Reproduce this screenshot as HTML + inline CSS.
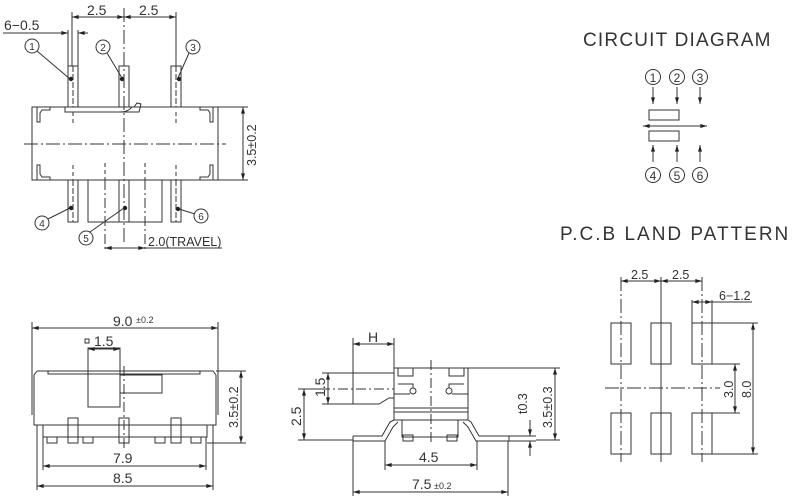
<!DOCTYPE html>
<html><head><meta charset="utf-8"><style>
html,body{margin:0;padding:0;background:#fff;}
svg{display:block;}
text{font-family:"Liberation Sans",sans-serif;fill:#333;}
</style></head><body>
<svg width="800" height="503" viewBox="0 0 800 503" xmlns="http://www.w3.org/2000/svg">
<defs>
<marker id="a" viewBox="0 0 10 6" refX="10" refY="3" markerWidth="8" markerHeight="4" orient="auto-start-reverse" markerUnits="userSpaceOnUse"><path d="M0,0L10,3L0,6z" fill="#222"/></marker>
</defs>
<g stroke="#333" stroke-width="1" fill="none">
<line x1="72" y1="12" x2="72" y2="66"/><line x1="176" y1="12" x2="176" y2="66"/>
<line x1="72" y1="17" x2="124" y2="17" marker-start="url(#a)" marker-end="url(#a)"/>
<line x1="124" y1="17" x2="176" y2="17" marker-start="url(#a)" marker-end="url(#a)"/>
<line x1="124" y1="8" x2="124" y2="245" stroke-dasharray="14,3,2,3"/>
<line x1="3" y1="33" x2="62" y2="33"/>
<line x1="58" y1="33" x2="68" y2="33" marker-end="url(#a)"/>
<line x1="88" y1="33" x2="78" y2="33" marker-end="url(#a)"/>
<line x1="68" y1="30" x2="68" y2="66"/><line x1="78" y1="30" x2="78" y2="66"/>
<rect x="68" y="66" width="10" height="41"/><rect x="119" y="66" width="10" height="41"/><rect x="171" y="66" width="10" height="41"/>
<rect x="68" y="180" width="10" height="42"/><rect x="119" y="180" width="10" height="42"/><rect x="171" y="180" width="10" height="42"/>
<line x1="73" y1="66" x2="73" y2="107" stroke-dasharray="6,2"/><line x1="176" y1="66" x2="176" y2="107" stroke-dasharray="6,2"/>
<line x1="73" y1="180" x2="73" y2="222" stroke-dasharray="6,2"/><line x1="176" y1="180" x2="176" y2="222" stroke-dasharray="6,2"/>
<rect x="32" y="107" width="186" height="73"/>
<path d="M65,107 L65,112 L120,112 Q128,112 132,107 M134,107 L137,103 L141,104 L139,112 L120,112"/>
<path d="M32,107 L50,107 L50,110 L42,110 L40,113 L40,122 L37,122 L37,107"/>
<path d="M218,107 L200,107 L200,110 L208,110 L210,113 L210,122 L213,122 L213,107"/>
<path d="M32,180 L50,180 L50,177 L42,177 L40,174 L40,165 L37,165 L37,180"/>
<path d="M218,180 L200,180 L200,177 L208,177 L210,174 L210,165 L213,165 L213,180"/>
<line x1="24" y1="144" x2="226" y2="144" stroke-dasharray="14,3,2,3"/>
<line x1="73" y1="112" x2="73" y2="125" stroke-dasharray="4,3"/><line x1="176" y1="112" x2="176" y2="125" stroke-dasharray="4,3"/>
<line x1="73" y1="165" x2="73" y2="180" stroke-dasharray="4,3"/><line x1="176" y1="165" x2="176" y2="180" stroke-dasharray="4,3"/>
<line x1="105" y1="163" x2="105" y2="180" stroke-dasharray="4,3"/><line x1="145" y1="163" x2="145" y2="180" stroke-dasharray="4,3"/>
<path d="M119,222 L88,222 L88,180 M129,180 L162,180 L162,222 L129,222" />
<line x1="105" y1="180" x2="105" y2="250" stroke-dasharray="10,3,2,3"/>
<line x1="145" y1="180" x2="145" y2="250" stroke-dasharray="10,3,2,3"/>
<line x1="105" y1="248" x2="145" y2="248" marker-start="url(#a)" marker-end="url(#a)"/>
<line x1="145" y1="248" x2="222" y2="248"/>
<line x1="218" y1="107" x2="248" y2="107"/><line x1="218" y1="180" x2="248" y2="180"/>
<line x1="243" y1="107" x2="243" y2="180" marker-start="url(#a)" marker-end="url(#a)"/>
<circle cx="32" cy="46" r="7"/><circle cx="103" cy="47" r="7"/><circle cx="193" cy="47" r="7"/>
<circle cx="42" cy="223" r="7"/><circle cx="86" cy="238" r="7"/><circle cx="201" cy="216" r="7"/>
<line x1="37" y1="51" x2="70" y2="79"/><line x1="107" y1="53" x2="122" y2="78"/><line x1="189" y1="53" x2="178" y2="78"/>
<line x1="48" y1="219" x2="70" y2="208"/><line x1="90" y1="232" x2="124" y2="208"/><line x1="195" y1="214" x2="179" y2="209"/>
</g>
<g fill="#222">
<circle cx="71" cy="79" r="2.2"/><circle cx="122" cy="79" r="2.2"/><circle cx="179" cy="79" r="2.2"/>
<circle cx="71" cy="208" r="2.2"/><circle cx="125" cy="208" r="2.2"/><circle cx="178" cy="209" r="2.2"/>
</g>
<g font-size="14">
<text x="87" y="15">2.5</text><text x="139" y="15">2.5</text>
<text x="4" y="30">6−0.5</text>
<text x="148" y="246" font-size="12.5">2.0(TRAVEL)</text>
<text transform="translate(256,166) rotate(-90)" font-size="12.5">3.5±0.2</text>
</g>
<g font-size="10" text-anchor="middle">
<text x="32" y="50">1</text><text x="103" y="51">2</text><text x="193" y="51">3</text>
<text x="42" y="227">4</text><text x="86" y="242">5</text><text x="201" y="220">6</text>
</g>

<text x="583" y="46" font-size="19" letter-spacing="1.2">CIRCUIT DIAGRAM</text>
<text x="560" y="240" font-size="19" letter-spacing="2">P.C.B LAND PATTERN</text>
<g stroke="#333" fill="none">
<circle cx="653" cy="77" r="7.5"/><circle cx="677" cy="77" r="7.5"/><circle cx="700" cy="77" r="7.5"/>
<circle cx="653" cy="175" r="7.5"/><circle cx="677" cy="175" r="7.5"/><circle cx="700" cy="175" r="7.5"/>
<line x1="653" y1="87" x2="653" y2="104" marker-end="url(#a)"/><line x1="677" y1="87" x2="677" y2="104" marker-end="url(#a)"/><line x1="700" y1="87" x2="700" y2="104" marker-end="url(#a)"/>
<line x1="653" y1="162" x2="653" y2="145" marker-end="url(#a)"/><line x1="677" y1="162" x2="677" y2="145" marker-end="url(#a)"/><line x1="700" y1="162" x2="700" y2="145" marker-end="url(#a)"/>
<rect x="649" y="110" width="30" height="10"/><rect x="649" y="131" width="30" height="10"/>
<line x1="643" y1="126" x2="707" y2="126" marker-start="url(#a)" marker-end="url(#a)"/>
</g>
<g font-size="12" text-anchor="middle">
<text x="653" y="82">1</text><text x="677" y="82">2</text><text x="700" y="82">3</text>
<text x="653" y="180">4</text><text x="677" y="180">5</text><text x="700" y="180">6</text>
</g>

<g stroke="#333" fill="none">
<rect x="611" y="323" width="20" height="41"/><rect x="651" y="323" width="20" height="41"/><rect x="692" y="323" width="20" height="41"/>
<rect x="611" y="413" width="20" height="41"/><rect x="651" y="413" width="20" height="41"/><rect x="692" y="413" width="20" height="41"/>
<line x1="621" y1="277" x2="621" y2="462" stroke-dasharray="14,3,2,3"/>
<line x1="661" y1="277" x2="661" y2="462"/>
<line x1="702" y1="277" x2="702" y2="462" stroke-dasharray="14,3,2,3"/>
<line x1="605" y1="388" x2="720" y2="388" stroke-dasharray="14,3,2,3"/>
<line x1="621" y1="281" x2="661" y2="281" marker-start="url(#a)" marker-end="url(#a)"/>
<line x1="661" y1="281" x2="702" y2="281" marker-start="url(#a)" marker-end="url(#a)"/>
<line x1="692" y1="300" x2="692" y2="323"/><line x1="712" y1="300" x2="712" y2="323"/>
<line x1="692" y1="302" x2="712" y2="302" marker-start="url(#a)" marker-end="url(#a)"/>
<line x1="712" y1="302" x2="752" y2="302"/>
<line x1="712" y1="364" x2="740" y2="364"/><line x1="712" y1="413" x2="740" y2="413"/>
<line x1="735" y1="364" x2="735" y2="413" marker-start="url(#a)" marker-end="url(#a)"/>
<line x1="712" y1="323" x2="758" y2="323"/><line x1="712" y1="454" x2="758" y2="454"/>
<line x1="753" y1="323" x2="753" y2="454" marker-start="url(#a)" marker-end="url(#a)"/>
</g>
<g font-size="12.5">
<text x="631" y="279">2.5</text><text x="672" y="279">2.5</text>
<text x="719" y="300">6−1.2</text>
<text transform="translate(733,398) rotate(-90)">3.0</text>
<text transform="translate(751,398) rotate(-90)">8.0</text>
</g>

<g stroke="#333" fill="none">
<line x1="32" y1="322" x2="32" y2="380"/><line x1="218" y1="322" x2="218" y2="380"/>
<line x1="32" y1="328" x2="218" y2="328" marker-start="url(#a)" marker-end="url(#a)"/>
<path d="M37,371 L213,371 L216,375 L216,425 L212,425 M37,371 L34,375 L34,425 L38,425"/>
<path d="M32,378 L32,415 M218,378 L218,415"/>
<line x1="38" y1="425" x2="212" y2="425"/>
<path d="M48,371 L48,374 L200,374 L200,371"/>
<path d="M43,425 L43,437 L207,437 L207,425"/>
<rect x="88" y="348" width="32" height="59"/>
<path d="M120,375 L162,375 L162,393 L120,393"/>
<line x1="88" y1="349" x2="120" y2="349" marker-start="url(#a)" marker-end="url(#a)"/>
<rect x="85" y="339" width="4" height="4"/>
<rect x="68" y="418" width="10" height="25"/><rect x="119" y="418" width="10" height="25"/><rect x="171" y="418" width="10" height="25"/>
<rect x="47" y="437" width="10" height="6"/><rect x="83" y="437" width="10" height="6"/><rect x="155" y="437" width="10" height="6"/><rect x="191" y="437" width="10" height="6"/>
<line x1="124" y1="366" x2="124" y2="450" stroke-dasharray="10,3,2,3"/>
<line x1="43" y1="437" x2="43" y2="470"/><line x1="206" y1="437" x2="206" y2="470"/>
<line x1="43" y1="466" x2="206" y2="466" marker-start="url(#a)" marker-end="url(#a)"/>
<line x1="37" y1="425" x2="37" y2="490"/><line x1="213" y1="425" x2="213" y2="490"/>
<line x1="37" y1="486" x2="213" y2="486" marker-start="url(#a)" marker-end="url(#a)"/>
<line x1="216" y1="371" x2="246" y2="371"/><line x1="207" y1="443" x2="246" y2="443"/>
<line x1="241" y1="371" x2="241" y2="443" marker-start="url(#a)" marker-end="url(#a)"/>
</g>
<g font-size="14">
<text x="113" y="326">9.0</text><text x="136" y="323" font-size="9">±0.2</text>
<text x="94" y="346">1.5</text>
<text x="113" y="463">7.9</text><text x="113" y="483">8.5</text>
<text transform="translate(238,428) rotate(-90)" font-size="12.5">3.5±0.2</text>
</g>

<g stroke="#333" fill="none">
<line x1="353" y1="338" x2="353" y2="404"/><line x1="394" y1="338" x2="394" y2="368"/>
<line x1="353" y1="344" x2="394" y2="344" marker-start="url(#a)" marker-end="url(#a)"/>
<rect x="394" y="368" width="74" height="52"/>
<line x1="394" y1="408" x2="468" y2="408"/><line x1="394" y1="412" x2="468" y2="412"/>
<path d="M398,368 L398,376 L413,376 L413,368 M398,384 L413,384 L413,388 M464,368 L464,376 L449,376 L449,368 M464,384 L449,384 L449,388"/>
<path d="M394,394 L410,394 M468,394 L452,394"/>
<circle cx="413" cy="391" r="3"/><circle cx="449" cy="391" r="3"/>
<path d="M402,420 L402,437 L458,437 L458,420"/>
<rect x="403" y="435" width="10" height="6"/><rect x="447" y="435" width="10" height="6"/>
<path d="M353,373 L394,373 M353,404 L379,404 L389,398 L394,398"/>
<line x1="320" y1="389" x2="394" y2="389" stroke-dasharray="10,3,2,3"/>
<line x1="431" y1="360" x2="431" y2="445" stroke-dasharray="10,3,2,3"/>
<path d="M353,436 L382,436 L390,422 L394,420 M353,441 L385,441 L393,427 L398,422"/>
<path d="M509,436 L479,436 L471,422 L468,420 M509,441 L476,441 L468,427 L463,422"/>
<line x1="353" y1="436" x2="353" y2="441"/><line x1="509" y1="436" x2="509" y2="441"/>
<line x1="322" y1="373" x2="353" y2="373"/><line x1="322" y1="404" x2="353" y2="404"/>
<line x1="328" y1="373" x2="328" y2="404" marker-start="url(#a)" marker-end="url(#a)"/>
<line x1="298" y1="389" x2="320" y2="389"/><line x1="298" y1="440" x2="353" y2="440"/>
<line x1="304" y1="389" x2="304" y2="440" marker-start="url(#a)" marker-end="url(#a)"/>
<line x1="385" y1="441" x2="385" y2="470"/><line x1="477" y1="441" x2="477" y2="470"/>
<line x1="385" y1="465" x2="477" y2="465" marker-start="url(#a)" marker-end="url(#a)"/>
<line x1="353" y1="441" x2="353" y2="496"/><line x1="508" y1="441" x2="508" y2="496"/>
<line x1="353" y1="492" x2="508" y2="492" marker-start="url(#a)" marker-end="url(#a)"/>
<line x1="509" y1="436" x2="536" y2="436"/><line x1="509" y1="441" x2="536" y2="441"/>
<line x1="530" y1="420" x2="530" y2="436" marker-end="url(#a)"/>
<line x1="530" y1="456" x2="530" y2="441" marker-end="url(#a)"/>
<line x1="468" y1="368" x2="560" y2="368"/><line x1="536" y1="440" x2="560" y2="440"/>
<line x1="555" y1="368" x2="555" y2="440" marker-start="url(#a)" marker-end="url(#a)"/>
</g>
<g font-size="14">
<text x="368" y="342">H</text>
<text transform="translate(325,397) rotate(-90)">1.5</text>
<text transform="translate(301,426) rotate(-90)">2.5</text>
<text x="419" y="462">4.5</text>
<text x="412" y="489">7.5</text><text x="434" y="489" font-size="9">±0.2</text>
<text transform="translate(527,414) rotate(-90)" font-size="12.5">t0.3</text>
<text transform="translate(552,428) rotate(-90)" font-size="12.5">3.5±0.3</text>
</g>
</svg>
</body></html>
